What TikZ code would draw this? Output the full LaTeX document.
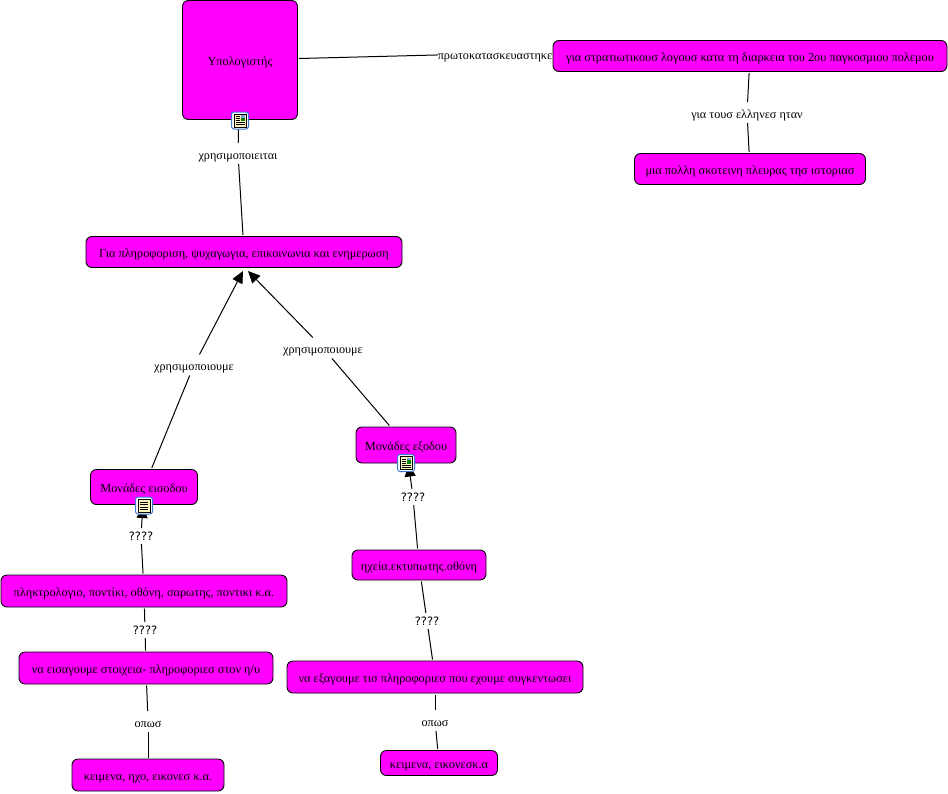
\documentclass[tikz,border=0pt]{standalone}
\usepackage{fontspec}
\setmainfont{Liberation Serif}
\newfontfamily\quesfont{DejaVu Sans}
\usetikzlibrary{arrows.meta}
\definecolor{boxpink}{HTML}{FF00FF}
\definecolor{iconblue}{HTML}{3B7BD4}
\definecolor{iconpaper}{HTML}{FFF6B8}
\tikzset{
	concept/.style={draw=black, line width=0.9pt, fill=boxpink, rounded corners=6pt, align=center, inner sep=0pt, outer sep=1.5pt, text height=11pt, text depth=0pt, font=\fontsize{12.3}{14}\selectfont},
	linking/.style={fill=white, inner sep=0pt, outer sep=0pt, minimum height=21pt, text height=11pt, text depth=0pt, font=\fontsize{12.2}{14}\selectfont},
	quest/.style={fill=white, inner sep=1pt, outer sep=0pt, minimum height=16pt, font=\quesfont\fontsize{11.5}{13}\selectfont},
	link/.style={line width=1pt},
	linkarrow/.style={line width=1pt, -{Triangle[length=12pt,width=11pt]}},
	docicon/.pic={
		\draw[iconblue, line width=1pt, fill=white, rounded corners=2.5pt] (-8.5,-8.5) rectangle (8.5,8.5);
		\draw[black, line width=0.7pt, fill=iconpaper] (-6,-6.5) rectangle (6,6.5);
		\foreach \i in {-3.5,-1,1.5,4} {\draw[black, line width=0.7pt] (-4,\i) -- (4,\i);}
	},
	imgicon/.pic={
		\draw[iconblue, line width=1pt, fill=white, rounded corners=2.5pt] (-8.5,-8.5) rectangle (8.5,8.5);
		\draw[black, line width=0.7pt, fill=iconpaper] (-6,-6.5) rectangle (6,6.5);
		\foreach \i in {-4,-2,0} {\draw[black, line width=0.6pt] (-4.5,\i) -- (-0.5,\i);}
		\foreach \i in {2,4} {\draw[black, line width=0.7pt] (-4.5,\i) -- (4.5,\i);}
		\fill[iconblue!70] (0.5,-5.5) rectangle (5,-3);
		\fill[green!50!black] (0.5,-3) rectangle (5,0.5);
	}
}
\begin{document}
\begin{tikzpicture}[x=1pt,y=-1pt]
	\useasboundingbox (0,0) rectangle (948,793);
	\node (comp) [concept, minimum width=115pt, minimum height=119pt] at (240,60) {Υπολογιστής};
	\node (war) [concept, minimum width=394pt, minimum height=31pt] at (750,56) {για στρατιωτικουσ λογουσ κατα τη διαρκεια του 2ου παγκοσμιου πολεμου};
	\node (dark) [concept, minimum width=231pt, minimum height=31pt] at (750,169) {μια πολλη σκοτεινη πλευρας τησ ιστοριασ};
	\node (use) [concept, minimum width=316pt, minimum height=31pt] at (244,252) {Για πληροφοριση, ψυχαγωγια, επικοινωνια και ενημερωση};
	\node (input) [concept, minimum width=107pt, minimum height=35pt] at (144,487) {Μονάδες εισοδου};
	\node (output) [concept, minimum width=100pt, minimum height=36pt] at (406,445) {Μονάδες εξοδου};
	\node (keys) [concept, minimum width=286pt, minimum height=32pt] at (144,591) {πληκτρολογιο, ποντίκι, οθόνη, σαρωτης, ποντικι κ.α.};
	\node (enter) [concept, minimum width=254pt, minimum height=32pt] at (146,668) {να εισαγουμε στοιχεια- πληροφοριεσ στον η/υ};
	\node (texts) [concept, minimum width=152pt, minimum height=32pt] at (148,775) {κειμενα, ηχο, εικονεσ κ.α.};
	\node (sound) [concept, minimum width=134pt, minimum height=30pt] at (419,565) {ηχεία.εκτυπωτης.οθόνη};
	\node (leave) [concept, minimum width=296pt, minimum height=32pt] at (435,677) {να εξαγουμε τισ πληροφοριεσ που εχουμε συγκεντωσει};
	\node (imgs) [concept, minimum width=117pt, minimum height=25pt] at (439,763) {κειμενα, εικονεσκ.α};

	\node (l1) [linking] at (495,53.5) {πρωτοκατασκευαστηκε};
	\node (l2) [linking] at (747,112.5) {για τουσ ελληνεσ ηταν};
	\node (l3) [linking] at (238,153.5) {χρησιμοποιειται};
	\node (l4) [linking] at (194,365) {χρησιμοποιουμε};
	\node (l5) [linking] at (323,348) {χρησιμοποιουμε};
	\node (l6) [quest] at (141,536) {????};
	\node (l7) [quest] at (145,630) {????};
	\node (l8) [linking] at (148,721.5) {οπωσ};
	\node (l9) [quest] at (413,497) {????};
	\node (l10) [quest] at (427,621) {????};
	\node (l11) [linking] at (435,720.5) {οπωσ};

	\coordinate (useleft) at (243,271);
	\coordinate (useright) at (248,271);

	\path[link]
	(comp) edge (l1)
	(l1) edge (war)
	(war) edge (l2)
	(l2) edge (dark)
	(comp) edge (l3)
	(l3) edge (use)
	(input) edge (l4)
	(output) edge (l5)
	(keys) edge (l6)
	(keys) edge (l7)
	(l7) edge (enter)
	(enter) edge (l8)
	(l8) edge (texts)
	(sound) edge (l9)
	(sound) edge (l10)
	(l10) edge (leave)
	(leave) edge (l11)
	(l11) edge (imgs)
	;
	\path[linkarrow]
	(l4) edge (useleft)
	(l5) edge (useright)
	(l6) edge (input)
	(l9) edge (output)
	;

	\pic (iconA) at (240,120.5) {imgicon};
	\pic (iconB) at (144,505.5) {docicon};
	\pic (iconC) at (406,463) {imgicon};
\end{tikzpicture}
\end{document}
